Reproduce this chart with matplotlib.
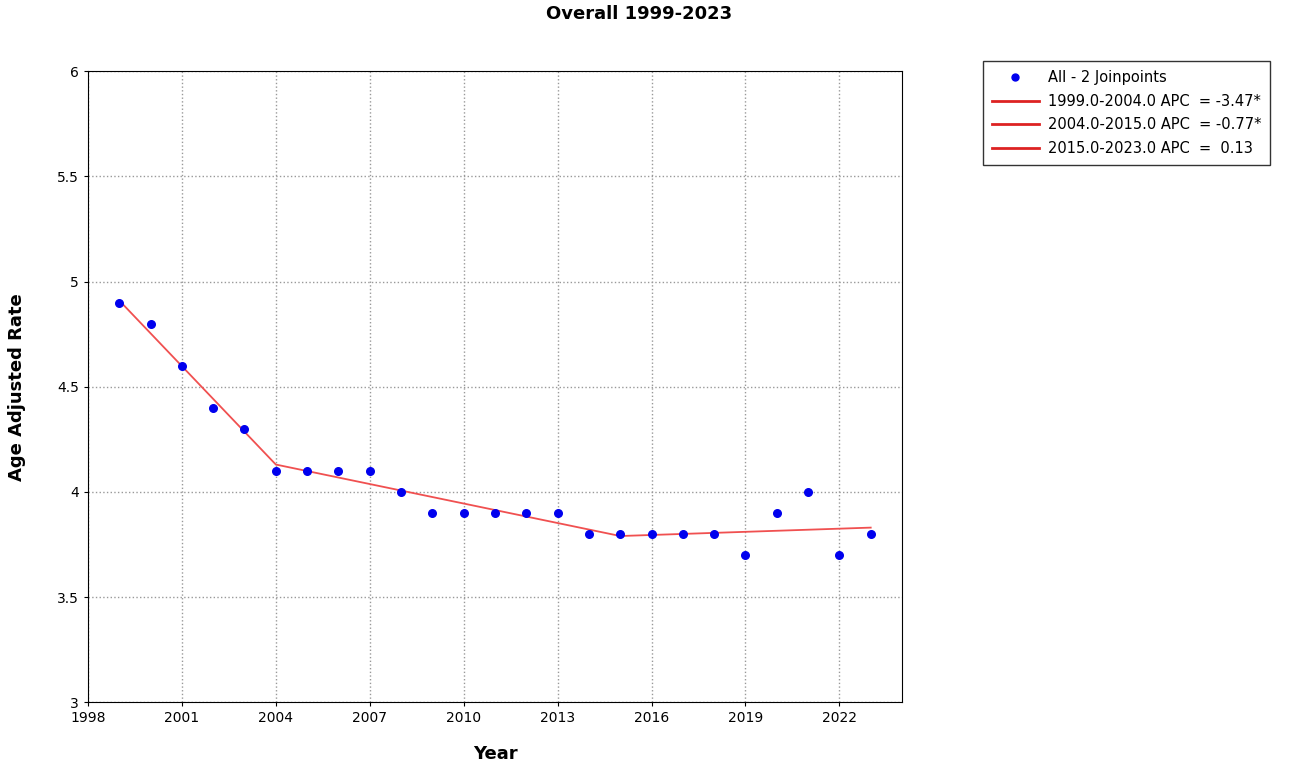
import matplotlib
matplotlib.use("Agg")
import matplotlib.pyplot as plt
from matplotlib.lines import Line2D

years = list(range(1999, 2024))
rates = [4.9, 4.8, 4.6, 4.4, 4.3, 4.1, 4.1, 4.1, 4.1, 4.0, 3.9, 3.9, 3.9, 3.9, 3.9,
         3.8, 3.8, 3.8, 3.8, 3.8, 3.7, 3.9, 4.0, 3.7, 3.8]
joint_years = [1999, 2004, 2015, 2023]
joint_fit = [4.91, 4.13, 3.79, 3.83]
seg_labels = ["1999.0-2004.0 APC  = -3.47*", "2004.0-2015.0 APC  = -0.77*", "2015.0-2023.0 APC  =  0.13"]
xticks = list(range(1998, 2023, 3))
yticks = [3, 3.5, 4, 4.5, 5, 5.5, 6]

fig = plt.figure(figsize=(12.99, 7.75), dpi=100)
ax = fig.add_axes([0.0677, 0.094, 0.6267, 0.814])
ax.plot(joint_years, joint_fit, color="#f05050", lw=1.3, zorder=2)
ax.scatter(years, rates, color="#0000ee", s=30, zorder=3)
ax.set_xlim(1998, 2024)
ax.set_ylim(3, 6)
ax.set_xticks(xticks)
ax.set_yticks(yticks)
ax.set_yticklabels([f"{v:g}" for v in yticks])
ax.grid(True, color="#999999", linestyle=":", linewidth=1)
ax.tick_params(labelsize=10, length=3)
ax.set_xlabel("Year", fontsize=13, fontweight="bold", labelpad=14)
ax.set_ylabel("Age Adjusted Rate", fontsize=13, fontweight="bold", labelpad=22)
fig.suptitle("Overall 1999-2023", fontsize=13, fontweight="bold", x=0.492, y=0.993)

handles = [Line2D([], [], marker="o", color="#0000ee", linestyle="none", markersize=5)]
handles += [Line2D([], [], color="#dd2222", lw=2) for _ in seg_labels]
leg = fig.legend(handles, ["All - 2 Joinpoints"] + seg_labels, loc="upper left",
                 bbox_to_anchor=(0.757, 0.921), fontsize=10.5, frameon=True,
                 fancybox=False, edgecolor="black", handlelength=3.2, borderpad=0.6,
                 labelspacing=0.6, borderaxespad=0, handletextpad=0.6)
leg.get_frame().set_linewidth(1)
fig.savefig("out.png", dpi=100)
